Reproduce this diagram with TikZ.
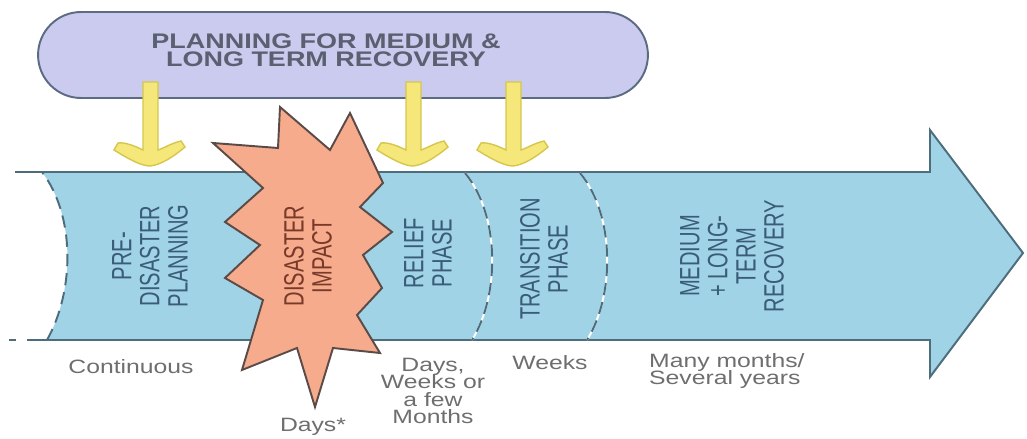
\documentclass[tikz,border=0pt]{standalone}
\usepackage{fontspec}
\setmainfont{Liberation Sans}
\newfontfamily\bandfont[FakeStretch=0.72]{Liberation Sans}
\newfontfamily\widefont[FakeStretch=1.28]{Liberation Sans}
\newcommand\lblfont{\widefont\fontsize{11}{10}\selectfont\setlength\lineskiplimit{-10pt}}
\newcommand\phasefont{\bandfont\fontsize{15.9}{16}\selectfont\setlength\lineskiplimit{-10pt}}

\definecolor{pillfill}{HTML}{CACBEE}
\definecolor{pilledge}{HTML}{5C6A82}
\definecolor{yfill}{HTML}{F5E77A}
\definecolor{yedge}{HTML}{D6C64E}
\definecolor{bandfill}{HTML}{A0D3E6}
\definecolor{bandedge}{HTML}{4D6C7C}
\definecolor{burstfill}{HTML}{F5AB8C}
\definecolor{burstedge}{HTML}{5A4A48}
\definecolor{bandtext}{HTML}{3A5C78}
\definecolor{bursttext}{HTML}{7A3A2A}
\definecolor{lbltext}{HTML}{6E6E6E}
\definecolor{toptext}{HTML}{5A6070}

\tikzset{
  phaselabel/.style={rotate=90, align=center, text=bandtext, font=\phasefont},
  timelabel/.style={align=center, text=lbltext, font=\lblfont},
  separator/.style={draw=bandedge, line width=1.1pt, dash pattern=on 7pt off 4pt},
  whitesep/.style={draw=white, line width=1.1pt},
  yarrow/.pic={
    \filldraw[fill=yfill, draw=yedge, line width=0.8pt]
      (-7,82) -- (-7,150) .. controls (-15,146) and (-25,142) .. (-32,143)
      -- (-36,150) .. controls (-20,160) and (-8,166) .. (0,166)
      .. controls (10,165) and (22,158) .. (35,147)
      -- (31,141) .. controls (22,143) and (14,148) .. (8,150)
      -- (8,82) -- cycle;
  }
}

\begin{document}
\begin{tikzpicture}[x=0.02cm, y=-0.02cm]
  \useasboundingbox (0,0) rectangle (1027,439);

  % Define band corners
  \coordinate (TL) at (15,172);
  \coordinate (TS) at (42,172);
  \coordinate (TR) at (930,172);
  \coordinate (HT) at (930,130);
  \coordinate (Tip) at (1023,253);
  \coordinate (HB) at (930,377);
  \coordinate (BR) at (930,340);
  \coordinate (BS) at (47,340);
  \coordinate (BL) at (27,340);

  % Timeline arrow
  \fill[bandfill] (TS) -- (TR) -- (HT) -- (Tip) -- (HB) -- (BR) -- (BS)
    .. controls (75,290) and (75,215) .. (TS) -- cycle;
  \draw[bandedge, line width=1.1pt, line join=miter]
    (TL) -- (TR) -- (HT) -- (Tip) -- (HB) -- (BR) -- (BL);
  \draw[bandedge, line width=1.1pt] (9,340) -- (16,340);

  % Phase separators
  \draw[separator] (BS) .. controls (75,290) and (75,215) .. (TS);
  \draw[whitesep] (465,173) .. controls (500,215) and (500,295) .. (472,340);
  \draw[separator] (465,173) .. controls (500,215) and (500,295) .. (472,340);
  \draw[whitesep] (580,173) .. controls (615,215) and (615,295) .. (587,340);
  \draw[separator] (580,173) .. controls (615,215) and (615,295) .. (587,340);

  % Planning box
  \node[draw=pilledge, fill=pillfill, line width=1.1pt, rounded corners=0.86cm,
        minimum width=12.2cm, minimum height=1.72cm] (plan) at (343,55) {};
  \node[align=center, text=toptext, font=\widefont\bfseries\fontsize{12}{10.5}\selectfont]
        (plantext) at (326,50) {PLANNING FOR MEDIUM \&\\LONG TERM RECOVERY};

  % Input arrows
  \foreach \ax in {150,413,513}
    \pic at (\ax,0) {yarrow};

  % Disaster burst
  \filldraw[fill=burstfill, draw=burstedge, line width=1.1pt, line join=miter]
    (213,143) -- (278,148) -- (280,107) -- (330,150) -- (350,113)
    -- (383,183) -- (360,207) -- (392,232) -- (363,255) -- (382,288)
    -- (357,315) -- (380,353) -- (333,348) -- (315,407) -- (297,348)
    -- (242,370) -- (263,300) -- (225,278) -- (260,245) -- (225,222)
    -- (263,188) -- cycle;

  % Phase names
  \node[phaselabel] (pre) at (150,256) {PRE-\\DISASTER\\PLANNING};
  \node[phaselabel, text=bursttext] (impact) at (308,256) {DISASTER\\IMPACT};
  \node[phaselabel] (relief) at (428,253) {RELIEF\\PHASE};
  \node[phaselabel] (trans) at (544,259) {TRANSITION\\PHASE};
  \node[phaselabel] (recov) at (732,256) {MEDIUM\\+ LONG-\\TERM\\RECOVERY};

  % Durations
  \node[timelabel] (tpre) at (131,367) {Continuous};
  \node[timelabel] (timpact) at (313,427) {Days*};
  \node[timelabel] (trelief) at (433,391) {Days,\\Weeks or\\a few\\Months};
  \node[timelabel] (ttrans) at (550,363) {Weeks};
  \node[timelabel, align=left, anchor=west] (trecov) at (643,371) {Many months/\\Several years};
\end{tikzpicture}
\end{document}
